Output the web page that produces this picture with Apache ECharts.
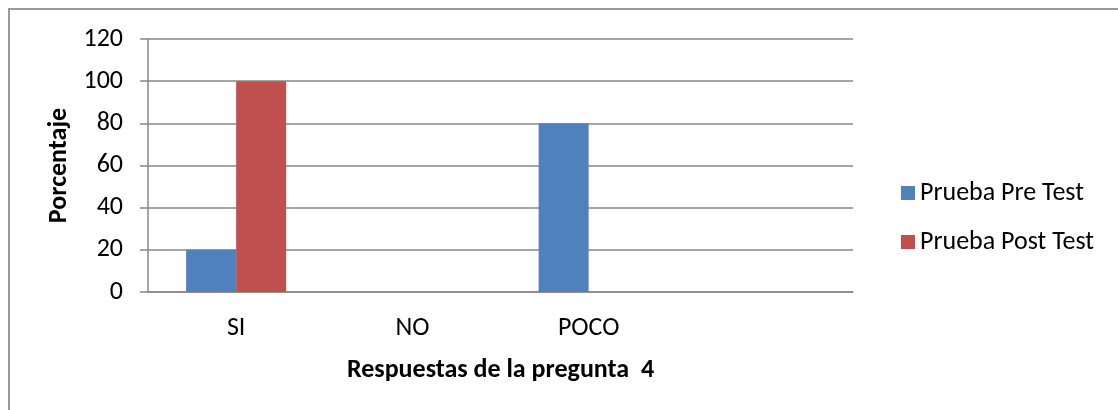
<!DOCTYPE html>
<html>
<head>
<meta charset="utf-8">
<script src="https://cdn.jsdelivr.net/npm/echarts@6/dist/echarts.min.js"></script>
<style>
  html, body { margin: 0; padding: 0; background: #fff; }
  #chart { width: 1118px; height: 410px; }
</style>
</head>
<body>
<div id="chart"></div>
<script>
// respuestas (la 4ta categoria va vacia, como en el original)
const categorias = ['SI', 'NO', 'POCO', ''];
const preTest = [20, 0, 80, null];
const postTest = [100, 0, 0, null];
const yTicks = { min: 0, max: 120, interval: 20 };

const fuente = "Carlito, 'Liberation Sans', sans-serif";
const gris = '#888888';
const tam = 26;

const chart = echarts.init(document.getElementById('chart'));
chart.setOption({
  animation: false,
  backgroundColor: '#fff',
  textStyle: { fontFamily: fuente, color: '#000' },
  grid: { left: 148, right: 265, top: 39, bottom: 118 },
  // marco del grafico (sale por la derecha y abajo)
  graphic: [{
    type: 'rect',
    shape: { x: 9, y: 9, width: 2000, height: 2000 },
    style: { fill: 'none', stroke: '#999', lineWidth: 2 },
    silent: true
  }],
  legend: {
    orient: 'vertical',
    left: 896,
    top: 175,
    itemWidth: 14,
    itemHeight: 14,
    itemGap: 23,
    icon: 'rect',
    textStyle: { fontFamily: fuente, fontSize: tam, lineHeight: tam, color: '#000', padding: [0, 0, 0, 0] },
    data: ['Prueba Pre Test', 'Prueba Post Test']
  },
  xAxis: {
    type: 'category',
    data: categorias,
    name: 'Respuestas de la pregunta  4',
    nameLocation: 'middle',
    nameGap: 65,
    nameTextStyle: { fontFamily: fuente, fontSize: tam, fontWeight: 'bold', color: '#000' },
    axisLine: { lineStyle: { color: gris, width: 1.5 } },
    axisTick: { show: false },
    axisLabel: { fontFamily: fuente, fontSize: tam, color: '#000', margin: 23 }
  },
  yAxis: {
    type: 'value',
    min: yTicks.min,
    max: yTicks.max,
    interval: yTicks.interval,
    name: 'Porcentaje',
    nameLocation: 'middle',
    nameGap: 73,
    nameRotate: 90,
    nameTextStyle: { fontFamily: fuente, fontSize: tam, fontWeight: 'bold', color: '#000' },
    axisLine: { show: true, lineStyle: { color: gris, width: 1.5 } },
    axisTick: { show: true, length: 8, lineStyle: { color: gris, width: 1.5 } },
    axisLabel: { fontFamily: fuente, fontSize: tam, color: '#000', margin: 25 },
    splitLine: { lineStyle: { color: gris, width: 1.5 } }
  },
  series: [
    {
      name: 'Prueba Pre Test',
      type: 'bar',
      data: preTest,
      barWidth: 50,
      barGap: '0%',
      itemStyle: { color: '#4F81BD' }
    },
    {
      name: 'Prueba Post Test',
      type: 'bar',
      data: postTest,
      barWidth: 50,
      itemStyle: { color: '#C0504D' }
    }
  ]
});
</script>
</body>
</html>
